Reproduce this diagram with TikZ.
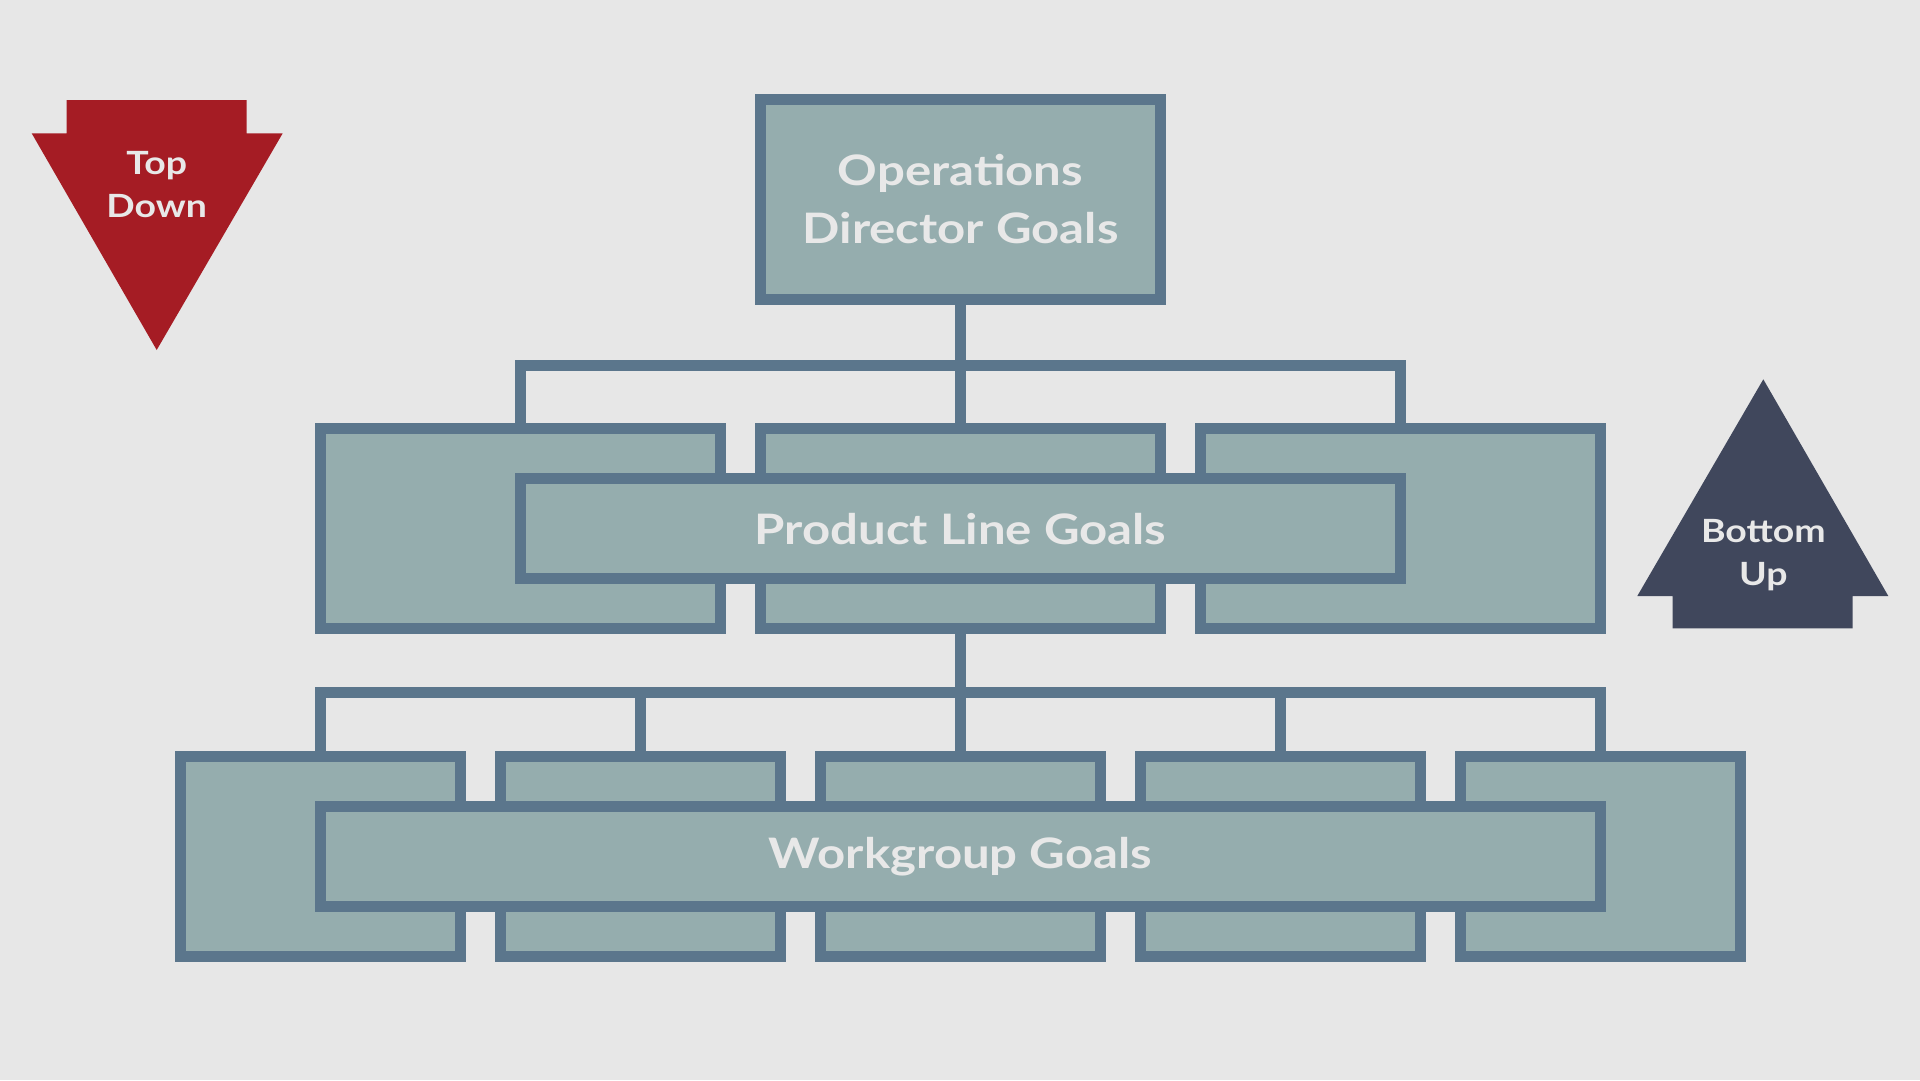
\documentclass[tikz,border=0pt]{standalone}
\usepackage{fontspec}
\setmainfont{Lato}[FakeStretch=1.17]
\usepackage{tikz}

\definecolor{bgGrey}{HTML}{E7E7E7}
\definecolor{boxFill}{HTML}{95ADAE}
\definecolor{boxLine}{HTML}{5B768C}
\definecolor{downRed}{HTML}{A51C24}
\definecolor{upNavy}{HTML}{40475C}
\definecolor{txtGrey}{HTML}{E8E8E8}

\tikzset{
  goalbox/.style={draw=boxLine, fill=boxFill, line width=11pt, rectangle, inner sep=0pt,
    minimum width=#1, minimum height=200pt},
  goalbar/.style={draw=boxLine, fill=boxFill, line width=11pt, rectangle, inner sep=0pt,
    minimum width=#1, minimum height=100pt, text=txtGrey,
    font=\fontsize{42}{46}\selectfont\bfseries},
  link/.style={draw=boxLine, line width=11pt},
  arrowtxt/.style={text=txtGrey, align=center, inner sep=0pt,
    font=\fontsize{32}{43}\selectfont\bfseries}
}

\begin{document}
\begin{tikzpicture}[x=1pt,y=-1pt]
\useasboundingbox (0,0) rectangle (1920,1080);
\fill[bgGrey] (0,0) rectangle (1920,1080);

%Shape: Down Arrow
\fill[downRed] (66.7,100) -- (246.7,100) -- (246.7,133.3) -- (282.7,133.3) -- (156.7,350)
  -- (31.7,133.3) -- (66.7,133.3) -- cycle;
% Text Node
\node[arrowtxt] (topdown) at (156.7,185) {Top\\Down};

%Shape: Up Arrow
\fill[upNavy] (1763.3,379.3) -- (1888.3,596) -- (1852.7,596) -- (1852.7,628.3)
  -- (1672.7,628.3) -- (1672.7,596) -- (1637.3,596) -- cycle;
% Text Node
\node[arrowtxt] (bottomup) at (1763.3,555) {Bottom\\Up};

%Top level
\node[goalbox=400pt, text=txtGrey, align=center,
  font=\fontsize{42}{57.6}\selectfont\bfseries] (ops) at (960.5,199) {Operations\\Director Goals};

%Product line level
\node[goalbox=400pt] (pl1) at (520.5,528.8) {};
\node[goalbox=400pt] (pl2) at (960.5,528.8) {};
\node[goalbox=400pt] (pl3) at (1400.5,528.8) {};
\node[goalbar=880pt] (plbar) at (960.5,528.8) {Product Line Goals};

%Workgroup level
\node[goalbox=280pt] (wg1) at (320.5,856.8) {};
\node[goalbox=280pt] (wg2) at (640.5,856.8) {};
\node[goalbox=280pt] (wg3) at (960.5,856.8) {};
\node[goalbox=280pt] (wg4) at (1280.5,856.8) {};
\node[goalbox=280pt] (wg5) at (1600.5,856.8) {};
\node[goalbar=1280pt] (wgbar) at (960.5,856.8) {Workgroup Goals};

%Connectors
\coordinate (busA) at (960.5,365);
\coordinate (busB) at (960.5,692);
\draw[link] (ops.south) -- (busA) -- (pl2.north);
\draw[link] (pl1.north) |- (busA) -| (pl3.north);
\draw[link] (pl2.south) -- (busB) -- (wg3.north);
\draw[link] (wg1.north) |- (busB) -| (wg5.north);
\draw[link] (wg2.north) -- (wg2.north |- busB);
\draw[link] (wg4.north) -- (wg4.north |- busB);

\end{tikzpicture}
\end{document}
